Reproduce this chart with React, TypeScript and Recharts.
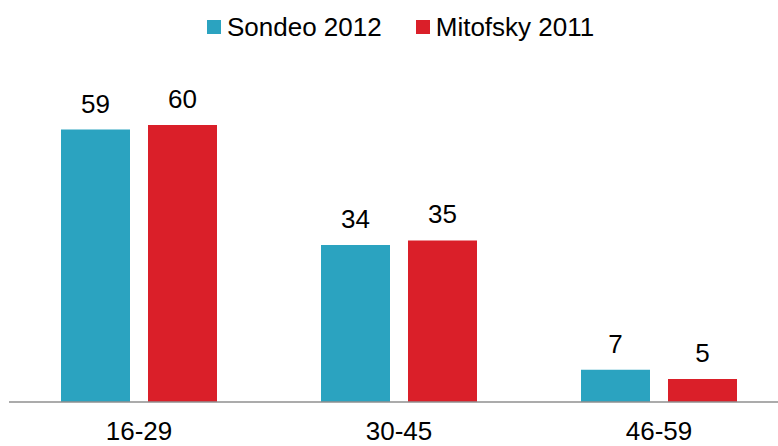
import { BarChart, Bar, XAxis, YAxis, LabelList } from 'recharts';

const categories = ['16-29', '30-45', '46-59'];
const sondeo2012 = [59, 34, 7];
const mitofsky2011 = [60, 35, 5];

const TEAL = '#2ba3c0';
const RED = '#da1f29';
const FONT = '"Liberation Sans", Arial, sans-serif';

const data = categories.map((age, i) => ({
  age,
  sondeo: sondeo2012[i],
  mitofsky: mitofsky2011[i],
}));

const legendItems = [
  { label: 'Sondeo 2012', color: TEAL },
  { label: 'Mitofsky 2011', color: RED },
];

export default function App() {
  return (
    <div
      style={{
        position: 'absolute',
        left: 0,
        top: 0,
        width: 778,
        height: 446,
        overflow: 'hidden',
        background: '#fff',
        fontFamily: FONT,
      }}
    >
      <div
        style={{
          position: 'absolute',
          top: 12,
          left: 207,
          display: 'flex',
          alignItems: 'center',
          fontSize: 26,
          lineHeight: '30px',
          color: '#000',
        }}
      >
        {legendItems.map((item, i) => (
          <div
            key={item.label}
            style={{ display: 'flex', alignItems: 'center', marginLeft: i ? 34 : 0 }}
          >
            <span
              style={{
                width: 14,
                height: 14,
                background: item.color,
                display: 'inline-block',
                marginRight: 6,
              }}
            />
            <span>{item.label}</span>
          </div>
        ))}
      </div>

      <BarChart
        width={800}
        height={446}
        data={data}
        margin={{ top: 125, right: 11, bottom: 14, left: 9 }}
        barSize={69}
        barGap={18}
        style={{ position: 'absolute', left: 0, top: 0 }}
      >
        <XAxis
          dataKey="age"
          height={30}
          tickLine={false}
          tickSize={0}
          tickMargin={20}
          axisLine={{ stroke: '#8f8f8f', strokeWidth: 1.3 }}
          tick={{ fill: '#000', fontSize: 26, fontFamily: FONT }}
        />
        <YAxis hide domain={[0, 60]} />
        <Bar dataKey="sondeo" fill={TEAL} isAnimationActive={false}>
          <LabelList
            dataKey="sondeo"
            position="top"
            offset={17}
            style={{ fill: '#000', fontSize: 26, fontFamily: FONT }}
          />
        </Bar>
        <Bar dataKey="mitofsky" fill={RED} isAnimationActive={false}>
          <LabelList
            dataKey="mitofsky"
            position="top"
            offset={17}
            style={{ fill: '#000', fontSize: 26, fontFamily: FONT }}
          />
        </Bar>
      </BarChart>
    </div>
  );
}
